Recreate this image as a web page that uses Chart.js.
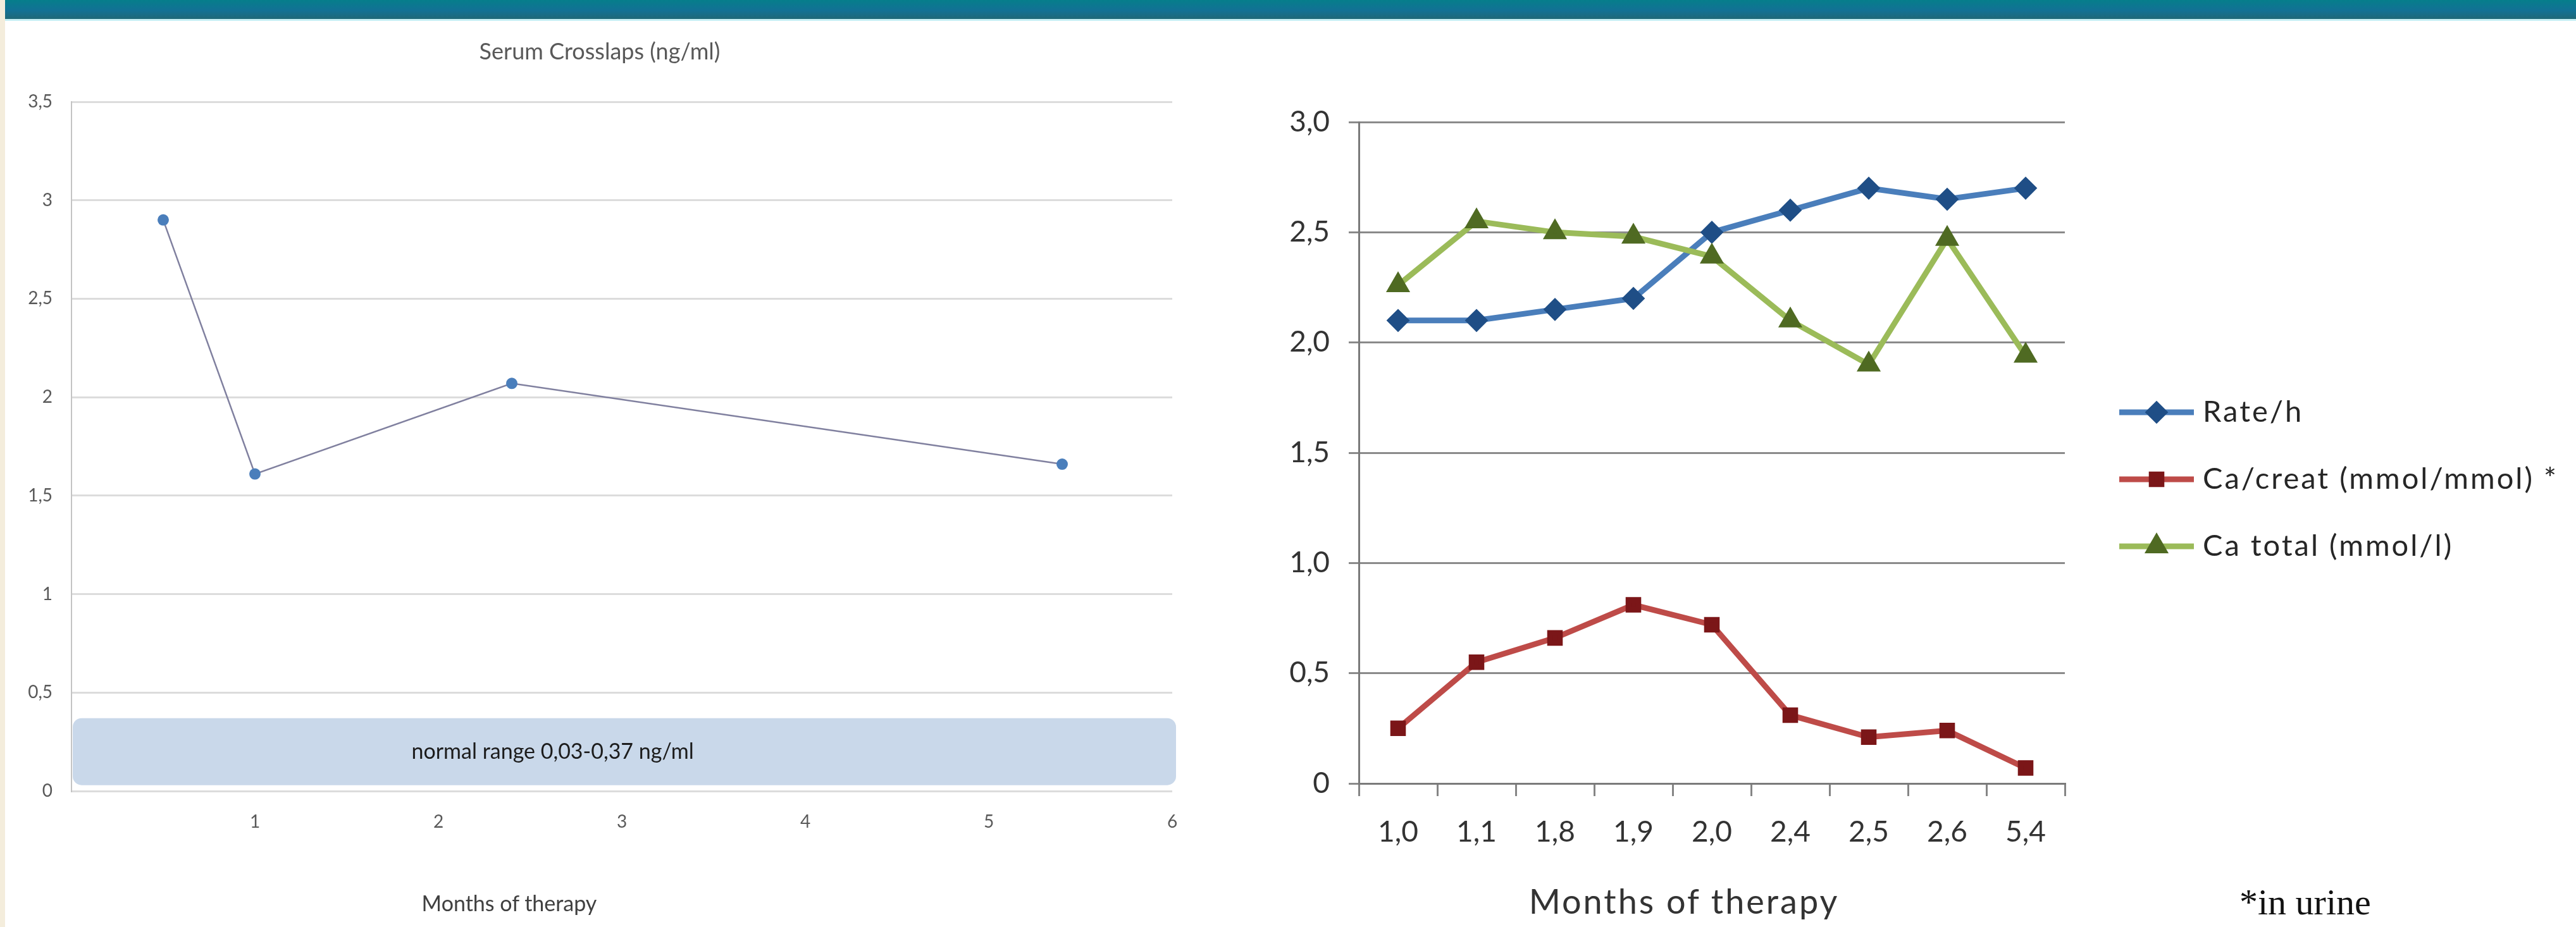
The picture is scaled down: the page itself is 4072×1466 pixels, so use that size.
<!DOCTYPE html>
<html>
<head>
<meta charset="utf-8">
<script src="https://cdn.jsdelivr.net/npm/chart.js@4.4.1/dist/chart.umd.min.js"></script>
<style>
  html, body { margin: 0; padding: 0; background: #ffffff; }
  body { width: 4072px; height: 1466px; position: relative; overflow: hidden; font-family: Lato, "Open Sans", sans-serif; }
  #edge { position: absolute; left: 0; top: 0; width: 8px; height: 1466px; background: #f4eddc; }
  #banner { position: absolute; left: 8px; top: 0; width: 4064px; height: 30px;
            background: linear-gradient(#067e8b, #127195 55%, #1f6877); border-bottom: 3px solid #c6eff5; }
  .lbl { position: absolute; white-space: nowrap; transform: translate(-50%, -50%); line-height: 1; }
  #leftTitle { left: 948px; top: 80px; font-size: 36px; color: #595959; }
  #leftAxisTitle { left: 805px; top: 1428px; font-size: 34px; color: #404040; }
  #rightAxisTitle { left: 2662px; top: 1425px; font-size: 54px; letter-spacing: 3px; color: #333333; }
  #footnote { position: absolute; left: 3540px; top: 1398px; font-family: "Liberation Serif", "Times New Roman", serif;
              font-size: 58px; color: #111111; white-space: nowrap; line-height: 1; }
  #leftChart { position: absolute; left: 0; top: 0; }
  #rightChart { position: absolute; left: 1950px; top: 0; }
</style>
</head>
<body>
<div id="edge"></div>
<div id="banner"></div>
<canvas id="leftChart" width="1950" height="1466"></canvas>
<canvas id="rightChart" width="2122" height="1466"></canvas>
<div class="lbl" id="leftTitle">Serum Crosslaps (ng/ml)</div>
<div class="lbl" id="leftAxisTitle">Months of therapy</div>
<div class="lbl" id="rightAxisTitle">Months of therapy</div>
<div id="footnote">*in urine</div>

<script>
// ---- Serum Crosslaps (left panel) ----
const crossMonths = [0.5, 1.0, 2.4, 5.4];
const crossValues = [2.90, 1.61, 2.07, 1.66];
const normalLow = 0.03;
const normalHigh = 0.37;
const normalLabel = 'normal range 0,03-0,37 ng/ml';

// ---- Rate / calcium (right panel) ----
const months = ['1,0', '1,1', '1,8', '1,9', '2,0', '2,4', '2,5', '2,6', '5,4'];
const rateH = [2.10, 2.10, 2.15, 2.20, 2.50, 2.60, 2.70, 2.65, 2.70];
const caCreat = [0.25, 0.55, 0.66, 0.81, 0.72, 0.31, 0.21, 0.24, 0.07];
const caTotal = [2.26, 2.55, 2.50, 2.48, 2.39, 2.10, 1.90, 2.47, 1.94];
const seriesNames = ['Rate/h', 'Ca/creat (mmol/mmol) *', 'Ca total (mmol/l)'];

Chart.defaults.font.family = 'Lato, "Open Sans", sans-serif';
Chart.defaults.animation = false;

const commaNum = v => String(v).replace('.', ',');

// shaded reference band with its caption
const normalBand = {
  id: 'normalBand',
  beforeDatasetsDraw(chart) {
    const { ctx, scales: { x, y } } = chart;
    const x0 = x.getPixelForValue(x.min) + 2;
    const x1 = x.getPixelForValue(x.max) + 6;
    const yTop = y.getPixelForValue(normalHigh);
    const yBot = y.getPixelForValue(normalLow);
    ctx.save();
    ctx.fillStyle = '#c9d8ea';
    ctx.beginPath();
    ctx.roundRect(x0, yTop, x1 - x0, yBot - yTop, 14);
    ctx.fill();
    ctx.fillStyle = '#1c1c1c';
    ctx.font = '34px Lato, "Open Sans", sans-serif';
    ctx.textAlign = 'center';
    ctx.textBaseline = 'middle';
    ctx.fillText(normalLabel, x0 + (x1 - x0) * 0.435, (yTop + yBot) / 2);
    ctx.restore();
  }
};

new Chart(document.getElementById('leftChart'), {
  type: 'scatter',
  data: {
    datasets: [{
      data: crossMonths.map((m, i) => ({ x: m, y: crossValues[i] })),
      showLine: true,
      borderColor: '#80809f',
      borderWidth: 2.5,
      pointRadius: 9,
      pointBackgroundColor: '#4a7ebb',
      pointBorderWidth: 0
    }]
  },
  options: {
    responsive: false,
    layout: { padding: { top: 161, right: 97, bottom: 0, left: 0 } },
    plugins: { legend: { display: false }, tooltip: { enabled: false } },
    scales: {
      x: {
        type: 'linear', min: 0, max: 6,
        afterFit: s => { s.height = 215; },
        grid: { display: false },
        border: { display: false },
        ticks: { stepSize: 1, padding: 24, color: '#595959', font: { size: 28 },
                 callback: v => (v === 0 ? '' : commaNum(v)) }
      },
      y: {
        min: 0, max: 3.5,
        afterFit: s => { s.width = 113; },
        grid: { color: '#dcdcdc', lineWidth: 3, drawTicks: false },
        border: { display: true, color: '#c4c4c4', width: 2 },
        ticks: { stepSize: 0.5, padding: 30, color: '#595959', font: { size: 28 }, callback: v => commaNum(v) }
      }
    }
  },
  plugins: [normalBand]
});

// legend block to the right of the plot, each entry shows the line and its marker
const sideLegend = {
  id: 'sideLegend',
  afterDraw(chart) {
    const { ctx, chartArea } = chart;
    const lx0 = chartArea.right + 86, lx1 = chartArea.right + 204;
    chart.data.datasets.forEach((ds, i) => {
      const yy = chartArea.top + 459 + i * 106;
      ctx.save();
      ctx.strokeStyle = ds.borderColor;
      ctx.lineWidth = ds.borderWidth;
      ctx.beginPath();
      ctx.moveTo(lx0, yy);
      ctx.lineTo(lx1, yy);
      ctx.stroke();
      ctx.fillStyle = ds.pointBackgroundColor;
      ctx.strokeStyle = ds.pointBorderColor;
      Chart.helpers.drawPoint(ctx, { pointStyle: ds.pointStyle, radius: ds.pointRadius, rotation: 0, borderWidth: 1 },
                              (lx0 + lx1) / 2, yy);
      ctx.fillStyle = '#262626';
      ctx.font = '47px Lato, "Open Sans", sans-serif';
      ctx.letterSpacing = '3px';
      ctx.textAlign = 'left';
      ctx.textBaseline = 'middle';
      ctx.fillText(ds.label, lx1 + 14, yy);
      ctx.restore();
    });
  }
};

new Chart(document.getElementById('rightChart'), {
  type: 'line',
  data: {
    labels: months,
    datasets: [
      { label: seriesNames[0], data: rateH, borderColor: '#4a7ebb', borderWidth: 9,
        pointStyle: 'rectRot', pointRadius: 12, pointBackgroundColor: '#1f4e86', pointBorderColor: '#1f4e86', order: 2 },
      { label: seriesNames[1], data: caCreat, borderColor: '#be4b48', borderWidth: 9,
        pointStyle: 'rect', pointRadius: 11, pointBackgroundColor: '#7b1618', pointBorderColor: '#7b1618', order: 1 },
      { label: seriesNames[2], data: caTotal, borderColor: '#9bbb59', borderWidth: 9,
        pointStyle: 'triangle', pointRadius: 13, pointBackgroundColor: '#4f6a22', pointBorderColor: '#4f6a22', order: 0 }
    ]
  },
  options: {
    responsive: false,
    layout: { padding: { top: 193, right: 808, bottom: 0, left: 0 } },
    plugins: { legend: { display: false }, tooltip: { enabled: false } },
    elements: { line: { tension: 0 } },
    scales: {
      x: {
        offset: true,
        afterFit: s => { s.height = 227; },
        grid: { display: true, drawOnChartArea: false, offset: true, tickLength: 20, color: '#858585', lineWidth: 3 },
        border: { display: true, color: '#7a7a7a', width: 3 },
        ticks: { padding: 30, color: '#333333', font: { size: 46 }, maxRotation: 0 }
      },
      y: {
        min: 0, max: 3,
        afterFit: s => { s.width = 198; },
        grid: { color: '#8a8a8a', lineWidth: 3, tickLength: 16 },
        border: { display: true, color: '#7a7a7a', width: 3 },
        ticks: { stepSize: 0.5, padding: 30, color: '#333333', font: { size: 46 },
                 callback: v => (v === 0 ? '0' : v.toFixed(1).replace('.', ',')) }
      }
    }
  },
  plugins: [sideLegend]
});
</script>
</body>
</html>
